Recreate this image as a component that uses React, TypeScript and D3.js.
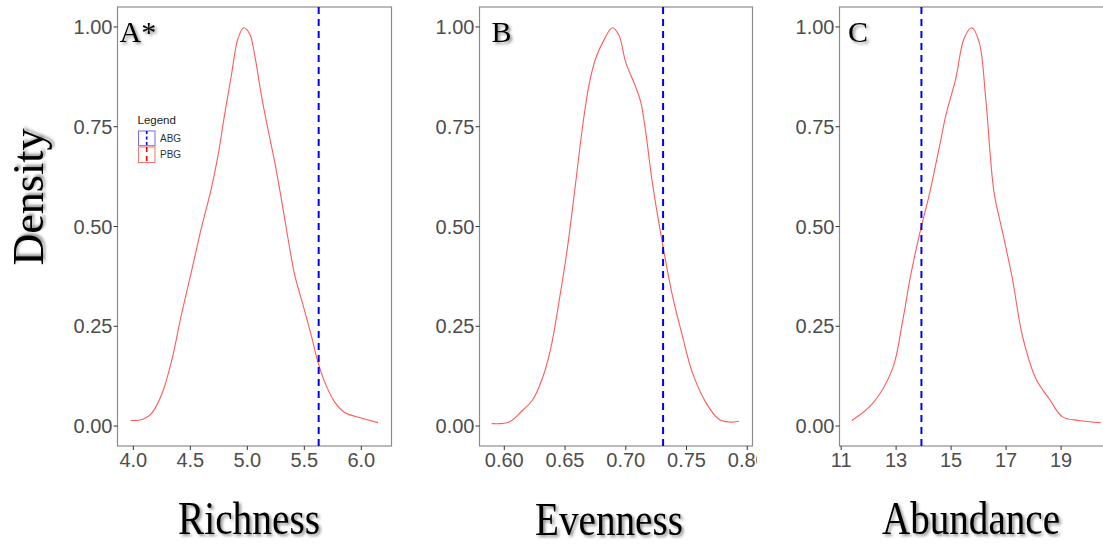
import React from "react";
import * as d3 from "d3";

// Density curves (scaled so the peak is 1) for each diversity index
const richnessX = [3.977, 4.085, 4.158, 4.246, 4.333, 4.42, 4.509, 4.596, 4.684, 4.743, 4.8, 4.86, 4.918, 4.968, 5.02, 5.065, 5.123, 5.18, 5.24, 5.298, 5.357, 5.416, 5.489, 5.561, 5.62, 5.679, 5.767, 5.854, 6.0, 6.147];
const richnessDensity = [0.014, 0.017, 0.031, 0.077, 0.16, 0.277, 0.386, 0.495, 0.595, 0.678, 0.779, 0.879, 0.971, 0.998, 0.983, 0.929, 0.829, 0.745, 0.662, 0.57, 0.47, 0.378, 0.303, 0.227, 0.16, 0.11, 0.06, 0.034, 0.02, 0.0085];

const evennessX = [0.5896, 0.6039, 0.6148, 0.623, 0.6313, 0.6382, 0.645, 0.6519, 0.6588, 0.6642, 0.6697, 0.6752, 0.682, 0.6889, 0.6944, 0.6999, 0.7081, 0.7123, 0.7164, 0.7218, 0.73, 0.7383, 0.7465, 0.7547, 0.7657, 0.7767, 0.7849, 0.7931];
const evennessDensity = [0.006, 0.01, 0.039, 0.064, 0.119, 0.194, 0.311, 0.445, 0.611, 0.745, 0.854, 0.921, 0.967, 0.998, 0.979, 0.912, 0.85, 0.812, 0.737, 0.611, 0.461, 0.328, 0.227, 0.135, 0.06, 0.017, 0.01, 0.012];

const abundanceX = [11.39, 12.14, 12.87, 13.23, 13.53, 13.9, 14.2, 14.56, 14.81, 15.17, 15.47, 15.75, 16.02, 16.26, 16.56, 16.87, 17.23, 17.59, 18.08, 18.56, 19.05, 19.65, 20.44];
const abundanceDensity = [0.014, 0.056, 0.144, 0.261, 0.378, 0.495, 0.578, 0.695, 0.779, 0.871, 0.971, 0.998, 0.962, 0.82, 0.586, 0.486, 0.369, 0.227, 0.119, 0.069, 0.023, 0.014, 0.0085];

// Observed values (dashed reference lines)
const richnessObserved = 5.626;
const evennessObserved = 0.7307;
const abundanceObserved = 13.92;

// Axis ticks
const densityTicks = [0, 0.25, 0.5, 0.75, 1.0];
const richnessTicks = [4.0, 4.5, 5.0, 5.5, 6.0];
const evennessTicks = [0.6, 0.65, 0.7, 0.75, 0.8];
const abundanceTicks = [11, 13, 15, 17, 19];

const panelLetters = ["A*", "B", "C"];
const axisTitles = ["Richness", "Evenness", "Abundance"];
const legendLabels = ["ABG", "PBG"];

const TOP = 7;
const BOTTOM = 446;
const SANS = "'Liberation Sans', Arial, sans-serif";
const SERIF = "'Liberation Serif', 'Times New Roman', serif";

type PanelProps = {
  left: number;
  right: number;
  domain: [number, number];
  xs: number[];
  ds: number[];
  observed: number;
  ticks: number[];
  fmt: (v: number) => string;
  letter: string;
  letterX: number;
  clipRight: number;
  id: string;
  legend?: boolean;
};

function Panel(p: PanelProps) {
  const x = d3.scaleLinear().domain(p.domain).range([p.left, p.right]);
  const y = d3.scaleLinear().domain([-0.05, 1.05]).range([BOTTOM, TOP]);
  const pts: [number, number][] = p.xs.map((v, i) => [v, p.ds[i]]);
  const line = d3
    .line<[number, number]>()
    .x((d) => x(d[0]))
    .y((d) => y(d[1]))
    .curve(d3.curveCatmullRom.alpha(0.5));
  const yFmt = d3.format(".2f");
  return (
    <g clipPath={`url(#clip-${p.id})`}>
      <defs>
        <clipPath id={`clip-${p.id}`}>
          <rect x={p.left - 70} y={0} width={p.clipRight - (p.left - 70)} height={480} />
        </clipPath>
      </defs>
      <rect x={p.left} y={TOP} width={p.right - p.left} height={BOTTOM - TOP} fill="#fff" stroke="#8c8c8c" strokeWidth={1.2} />
      {densityTicks.map((t) => (
        <g key={`y${t}`}>
          <line x1={p.left - 4} x2={p.left} y1={y(t)} y2={y(t)} stroke="#333" strokeWidth={1} />
          <text x={p.left - 5} y={y(t)} dy="0.35em" textAnchor="end" fontFamily={SANS} fontSize={20} fill="#4d4d4d">
            {yFmt(t)}
          </text>
        </g>
      ))}
      {p.ticks.map((t) => (
        <g key={`x${t}`}>
          <line x1={x(t)} x2={x(t)} y1={BOTTOM} y2={BOTTOM + 4} stroke="#333" strokeWidth={1} />
          <text x={x(t)} y={BOTTOM + 21} textAnchor="middle" fontFamily={SANS} fontSize={20} fill="#4d4d4d">
            {p.fmt(t)}
          </text>
        </g>
      ))}
      <path d={line(pts) || ""} fill="none" stroke="#ff5a5a" strokeWidth={1.1} />
      <line x1={x(p.observed)} x2={x(p.observed)} y1={TOP} y2={BOTTOM} stroke="#0000ff" strokeWidth={2} strokeDasharray="7,5" />
      <text x={p.letterX} y={41.5} fontFamily={SERIF} fontSize={30} fill="#000" filter="url(#shadow)">
        {p.letter}
      </text>
      {p.legend && (
        <g>
          <text x={137.5} y={124} fontFamily={SANS} fontSize={11.5} fill="#222">Legend</text>
          <rect x={138.5} y={131} width={16.5} height={14.7} fill="none" stroke="#6b6bff" strokeWidth={1} />
          <line x1={146.7} x2={146.7} y1={131} y2={147} stroke="#0000ff" strokeWidth={1.6} strokeDasharray="3,2.5" />
          <rect x={138.5} y={147} width={16.5} height={15.5} fill="none" stroke="#ff7070" strokeWidth={1} />
          <line x1={146.7} x2={146.7} y1={147} y2={163} stroke="#ff0000" strokeWidth={1.6} strokeDasharray="5,4" />
          <text x={160} y={142} fontFamily={SANS} fontSize={10} fill="#333">{legendLabels[0]}</text>
          <text x={160} y={158} fontFamily={SANS} fontSize={10} fill="#333">{legendLabels[1]}</text>
        </g>
      )}
    </g>
  );
}

export default function App() {
  const f1 = d3.format(".1f");
  const f2 = d3.format(".2f");
  const f0 = d3.format("d");
  return (
    <svg width={1103} height={546} style={{ display: "block", position: "absolute", left: 0, top: 0, background: "#fff" }}>
      <defs>
        <filter id="shadow" x="-20%" y="-20%" width="150%" height="150%">
          <feDropShadow dx={2} dy={2} stdDeviation={1.6} floodColor="#000" floodOpacity={0.45} />
        </filter>
      </defs>
      <rect x={0} y={0} width={1103} height={546} fill="#fff" />
      <Panel id="a" left={117.5} right={391.5} domain={[3.861, 6.265]} xs={richnessX} ds={richnessDensity} observed={richnessObserved} ticks={richnessTicks} fmt={f1} letter={panelLetters[0]} letterX={119.5} clipRight={400} legend />
      <Panel id="b" left={479.5} right={752.5} domain={[0.5796, 0.8043]} xs={evennessX} ds={evennessDensity} observed={evennessObserved} ticks={evennessTicks} fmt={f2} letter={panelLetters[1]} letterX={491.5} clipRight={757} />
      <Panel id="c" left={839.5} right={1112.5} domain={[10.94, 20.87]} xs={abundanceX} ds={abundanceDensity} observed={abundanceObserved} ticks={abundanceTicks} fmt={f0} letter={panelLetters[2]} letterX={848} clipRight={1110} />
      <text transform="translate(43,197) rotate(-90)" textAnchor="middle" fontFamily={SERIF} fontSize={44} fill="#000" filter="url(#shadow)">
        Density
      </text>
      <text x={249} y={534} textAnchor="middle" fontFamily={SERIF} fontSize={46} textLength={142} lengthAdjust="spacingAndGlyphs" fill="#000" filter="url(#shadow)">
        {axisTitles[0]}
      </text>
      <text x={609} y={535} textAnchor="middle" fontFamily={SERIF} fontSize={46} textLength={148} lengthAdjust="spacingAndGlyphs" fill="#000" filter="url(#shadow)">
        {axisTitles[1]}
      </text>
      <text x={971} y={534} textAnchor="middle" fontFamily={SERIF} fontSize={46} textLength={178} lengthAdjust="spacingAndGlyphs" fill="#000" filter="url(#shadow)">
        {axisTitles[2]}
      </text>
    </svg>
  );
}
